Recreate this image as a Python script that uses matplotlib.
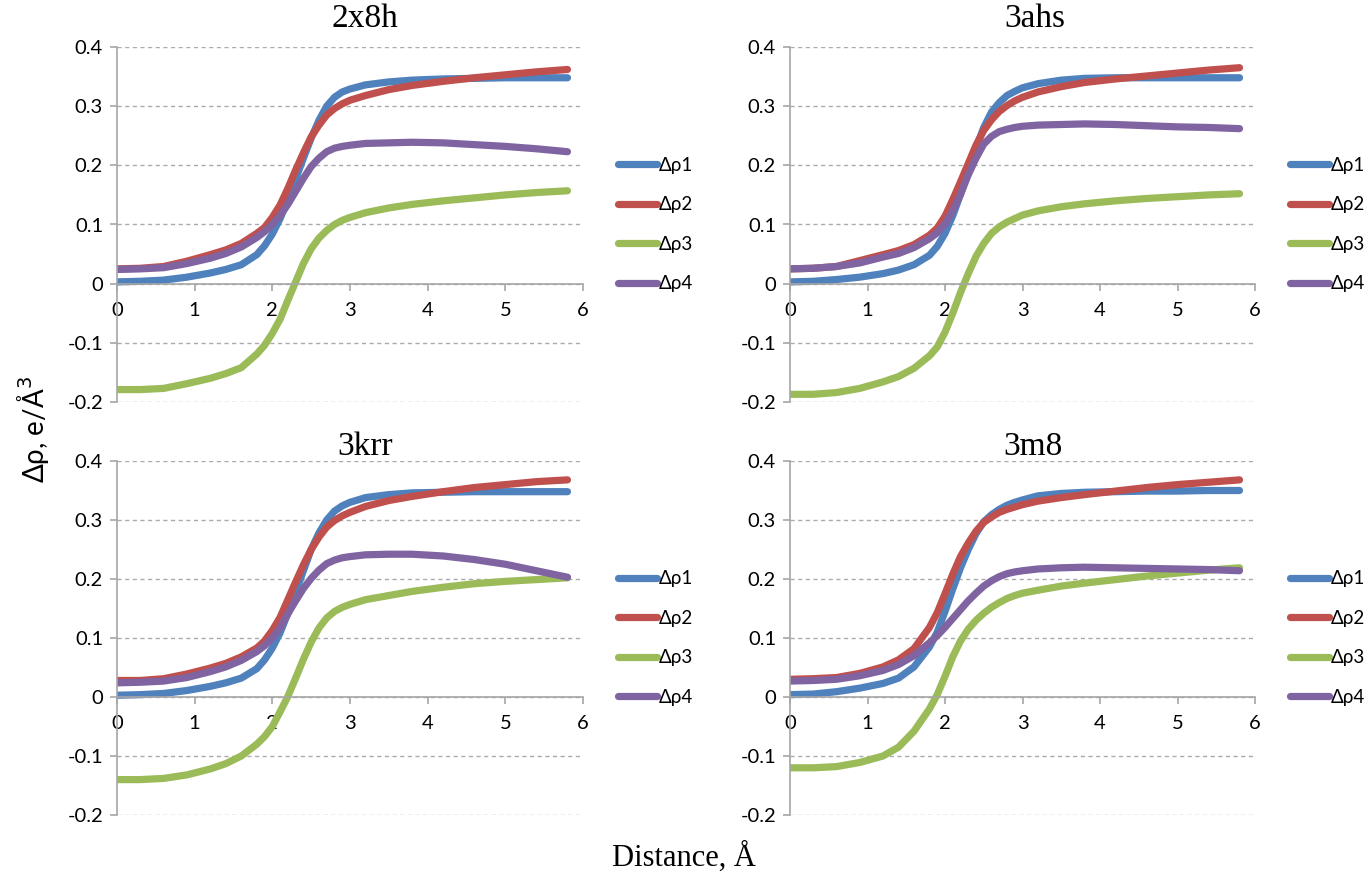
import matplotlib
matplotlib.use('Agg')
import matplotlib.pyplot as plt

# ---------------- data ----------------
x = [0, 0.3, 0.6, 0.9, 1.2, 1.4, 1.6, 1.8, 1.9, 2.0, 2.1, 2.2, 2.3, 2.4, 2.5,
     2.6, 2.7, 2.8, 2.9, 3.0, 3.2, 3.5, 3.8, 4.2, 4.6, 5.0, 5.4, 5.8]

panel_titles = ['2x8h', '3ahs', '3krr', '3m8']
series_names = ['Δρ1', 'Δρ2', 'Δρ3', 'Δρ4']

# 2x8h
d1_2x8h = [0.003, 0.004, 0.006, 0.011, 0.018, 0.024, 0.032, 0.049, 0.064, 0.084, 0.110, 0.142, 0.177, 0.212, 0.246,
           0.276, 0.300, 0.315, 0.324, 0.329, 0.336, 0.341, 0.344, 0.346, 0.347, 0.348, 0.348, 0.348]
d2_2x8h = [0.025, 0.026, 0.029, 0.038, 0.049, 0.057, 0.068, 0.085, 0.095, 0.112, 0.133, 0.161, 0.192, 0.221, 0.248,
           0.268, 0.285, 0.296, 0.304, 0.310, 0.318, 0.328, 0.335, 0.342, 0.348, 0.353, 0.358, 0.362]
d3_2x8h = [-0.179, -0.179, -0.177, -0.169, -0.160, -0.152, -0.142, -0.119, -0.104, -0.084, -0.060, -0.028, 0.003, 0.034, 0.059,
           0.077, 0.090, 0.100, 0.107, 0.112, 0.120, 0.128, 0.134, 0.140, 0.145, 0.150, 0.154, 0.157]
d4_2x8h = [0.024, 0.025, 0.027, 0.034, 0.043, 0.051, 0.062, 0.078, 0.088, 0.100, 0.115, 0.134, 0.156, 0.178, 0.198,
           0.212, 0.223, 0.229, 0.232, 0.234, 0.237, 0.238, 0.239, 0.238, 0.235, 0.232, 0.228, 0.223]

# 3ahs
d1_3ahs = [0.003, 0.004, 0.007, 0.011, 0.017, 0.023, 0.032, 0.048, 0.063, 0.085, 0.115, 0.151, 0.190, 0.229, 0.264,
           0.290, 0.306, 0.318, 0.325, 0.331, 0.338, 0.344, 0.347, 0.348, 0.348, 0.348, 0.348, 0.348]
d2_3ahs = [0.025, 0.026, 0.029, 0.039, 0.049, 0.056, 0.066, 0.082, 0.094, 0.114, 0.142, 0.172, 0.203, 0.234, 0.259,
           0.277, 0.291, 0.301, 0.309, 0.315, 0.324, 0.333, 0.340, 0.346, 0.351, 0.356, 0.361, 0.365]
d3_3ahs = [-0.187, -0.187, -0.184, -0.177, -0.166, -0.157, -0.143, -0.122, -0.107, -0.082, -0.050, -0.015, 0.017, 0.046, 0.068,
           0.085, 0.096, 0.104, 0.110, 0.116, 0.123, 0.130, 0.135, 0.140, 0.144, 0.147, 0.150, 0.152]
d4_3ahs = [0.025, 0.026, 0.029, 0.035, 0.045, 0.051, 0.061, 0.076, 0.086, 0.101, 0.123, 0.151, 0.184, 0.212, 0.236,
           0.249, 0.257, 0.261, 0.264, 0.266, 0.268, 0.269, 0.270, 0.269, 0.267, 0.265, 0.264, 0.262]

# 3krr
d1_3krr = [0.003, 0.004, 0.006, 0.011, 0.018, 0.024, 0.032, 0.048, 0.063, 0.083, 0.109, 0.142, 0.177, 0.214, 0.250,
           0.278, 0.300, 0.315, 0.324, 0.330, 0.338, 0.343, 0.346, 0.347, 0.348, 0.348, 0.348, 0.348]
d2_3krr = [0.028, 0.028, 0.031, 0.039, 0.049, 0.057, 0.068, 0.083, 0.095, 0.113, 0.135, 0.165, 0.195, 0.224, 0.250,
           0.271, 0.288, 0.299, 0.307, 0.313, 0.323, 0.333, 0.340, 0.348, 0.355, 0.360, 0.365, 0.368]
d3_3krr = [-0.140, -0.140, -0.138, -0.132, -0.122, -0.113, -0.100, -0.080, -0.067, -0.050, -0.025, 0.001, 0.032, 0.064, 0.093,
           0.117, 0.134, 0.145, 0.152, 0.157, 0.165, 0.172, 0.179, 0.186, 0.192, 0.196, 0.199, 0.202]
d4_3krr = [0.024, 0.025, 0.027, 0.033, 0.043, 0.051, 0.062, 0.077, 0.087, 0.100, 0.117, 0.141, 0.163, 0.184, 0.201,
           0.215, 0.226, 0.232, 0.236, 0.238, 0.241, 0.242, 0.242, 0.239, 0.233, 0.225, 0.214, 0.203]

# 3m8
d1_3m8 = [0.004, 0.005, 0.009, 0.015, 0.023, 0.032, 0.051, 0.085, 0.110, 0.145, 0.183, 0.219, 0.250, 0.277, 0.297,
          0.309, 0.318, 0.325, 0.330, 0.334, 0.341, 0.345, 0.347, 0.348, 0.349, 0.349, 0.350, 0.350]
d2_3m8 = [0.030, 0.031, 0.033, 0.040, 0.051, 0.063, 0.082, 0.118, 0.143, 0.175, 0.208, 0.238, 0.261, 0.281, 0.296,
          0.305, 0.313, 0.318, 0.322, 0.326, 0.332, 0.338, 0.343, 0.349, 0.355, 0.360, 0.364, 0.368]
d3_3m8 = [-0.120, -0.120, -0.118, -0.111, -0.100, -0.085, -0.058, -0.020, 0.004, 0.035, 0.068, 0.095, 0.115, 0.130, 0.142,
          0.152, 0.160, 0.167, 0.172, 0.176, 0.181, 0.188, 0.193, 0.199, 0.205, 0.210, 0.215, 0.219]
d4_3m8 = [0.027, 0.028, 0.030, 0.036, 0.045, 0.055, 0.070, 0.092, 0.104, 0.118, 0.133, 0.148, 0.163, 0.176, 0.188,
          0.197, 0.204, 0.209, 0.212, 0.214, 0.217, 0.219, 0.220, 0.219, 0.218, 0.217, 0.216, 0.214]

panel_data = [
    [d1_2x8h, d2_2x8h, d3_2x8h, d4_2x8h],
    [d1_3ahs, d2_3ahs, d3_3ahs, d4_3ahs],
    [d1_3krr, d2_3krr, d3_3krr, d4_3krr],
    [d1_3m8, d2_3m8, d3_3m8, d4_3m8],
]

x_ticks = [0, 1, 2, 3, 4, 5, 6]
y_ticks = [-0.2, -0.1, 0, 0.1, 0.2, 0.3, 0.4]
y_tick_labels = ['-0.2', '-0.1', '0', '0.1', '0.2', '0.3', '0.4']

# ---------------- style ----------------
colors = ['#4F81BD', '#C0504D', '#9BBB59', '#8064A2']
sans = ['Lato', 'DejaVu Sans']
serif = ['Liberation Serif', 'DejaVu Serif']

W, H = 1369, 874
fig = plt.figure(figsize=(W / 100, H / 100), dpi=100)

boxes = [(117, 47, 583, 402), (790, 47, 1255, 402),
         (117, 461, 583, 815), (790, 461, 1255, 815)]
title_pos = [(365, 19), (1035, 19), (365, 447), (1033, 447)]

for (l, t, r, b), title, tp, data in zip(boxes, panel_titles, title_pos, panel_data):
    ax = fig.add_axes([l / W, 1 - b / H, (r - l) / W, (b - t) / H])
    for vals, col, name in zip(data, colors, series_names):
        ax.plot(x, vals, color=col, lw=5.2, solid_capstyle='round',
                solid_joinstyle='round', label=name)
    ax.set_xlim(0, 6)
    ax.set_ylim(-0.2, 0.4)
    ax.set_xticks(x_ticks)
    ax.set_xticklabels([str(v) for v in x_ticks])
    ax.set_yticks(y_ticks)
    ax.set_yticklabels(y_tick_labels)
    for s in ['top', 'right']:
        ax.spines[s].set_visible(False)
    ax.spines['bottom'].set_position(('data', 0))
    ax.spines['bottom'].set_color('#A6A6A6')
    ax.spines['left'].set_color('#A6A6A6')
    ax.spines['bottom'].set_linewidth(1.2)
    ax.spines['left'].set_linewidth(1.2)
    ax.yaxis.grid(True, linestyle=(0, (3, 2.5)), color='#ABABAB', lw=1)
    ax.set_axisbelow(True)
    ax.tick_params(axis='both', direction='out', length=5, width=1.2,
                   color='#A6A6A6', labelsize=14.5, labelcolor='#000000')
    ax.tick_params(axis='x', pad=8)
    ax.tick_params(axis='y', pad=5)
    for lab in ax.get_xticklabels() + ax.get_yticklabels():
        lab.set_family(sans)
    fig.text(tp[0] / W, 1 - tp[1] / H, title, fontsize=24, family=serif,
             ha='center', va='center')
    ax.legend(loc='center left', bbox_to_anchor=(1.075, 0.5), frameon=False,
              prop={'family': sans, 'size': 13.5}, handlelength=2.1,
              handletextpad=0.1, labelspacing=1.2, borderaxespad=0,
              borderpad=0)

fig.text(0.024, 0.508, 'Δρ, e/Å$^3$', rotation=90, ha='center', va='center',
         fontsize=20, family=sans)
fig.text(0.4995, 0.019, 'Distance, Å', ha='center', va='center', fontsize=22,
         family=serif)

fig.savefig('out.png', dpi=100)
